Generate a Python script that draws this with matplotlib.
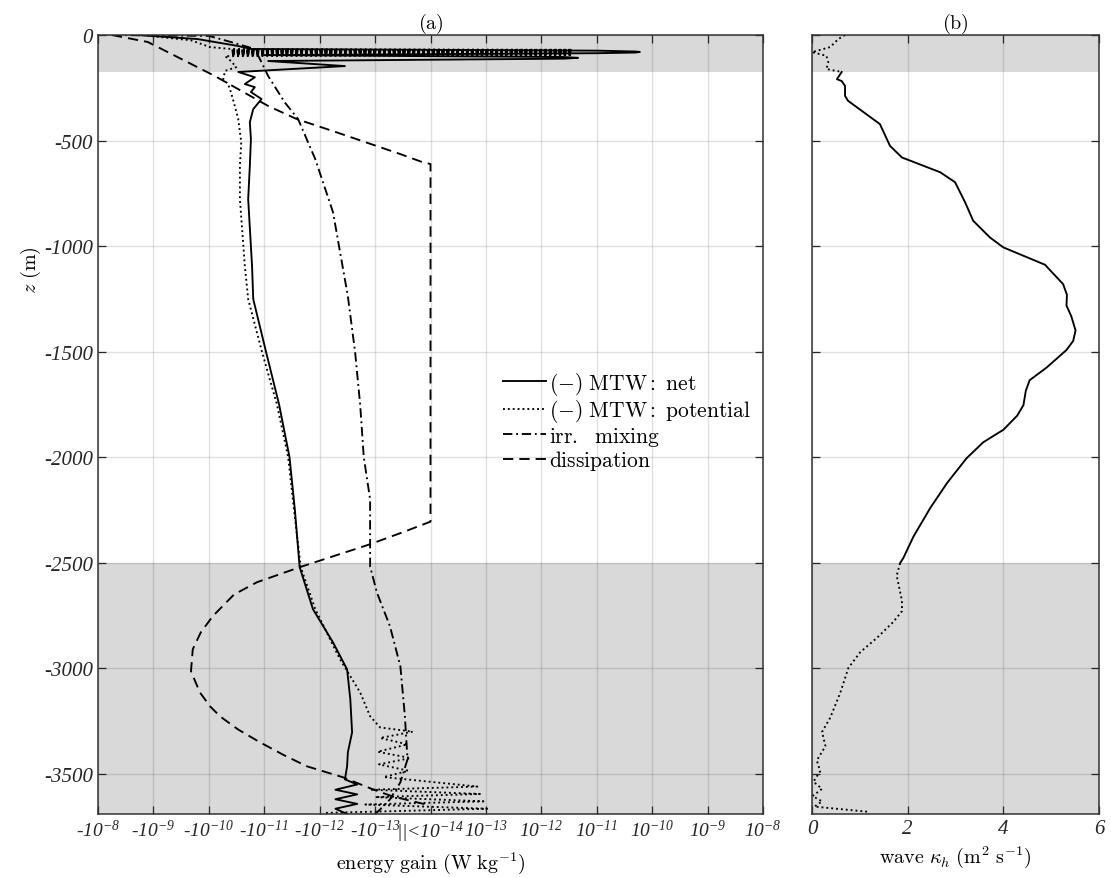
import numpy as np
import matplotlib
matplotlib.use("Agg")
import matplotlib.pyplot as plt

plt.rcParams['font.family'] = 'Liberation Serif'
plt.rcParams['font.style'] = 'italic'
plt.rcParams['mathtext.fontset'] = 'custom'
plt.rcParams['mathtext.rm'] = 'Liberation Serif:italic'
plt.rcParams['mathtext.it'] = 'Liberation Serif:italic'
plt.rcParams['mathtext.bf'] = 'Liberation Serif:italic'
plt.rcParams['axes.unicode_minus'] = False

# ---- panel (a): energy terms, W kg^-1 ----
net_z = [0, -19, -52, -66, -74, -78, -80, -83, -86, -95, -104, -108, -112,
         -123, -147, -175, -200, -232, -247, -270, -303, -351, -413, -493,
         -620, -777, -1095, -1251, -1500, -1750, -2000, -2250, -2520, -2720,
         -2877, -3005, -3147, -3303, -3398, -3464, -3526, -3550, -3575,
         -3597, -3620, -3642, -3665, -3690]
net_v = [-1.9e-9, -1.6e-10, -2.95e-11, -1.74e-11, 1.0e-11, 5.0e-11, 6.0e-11,
         5.0e-11, 1.0e-11, -1.0e-11, 2.5e-12, 4.6e-12, 2.5e-12,
         -8.5e-12, -3.5e-13, -2.95e-11, -1.48e-11, -2.24e-11, -1.48e-11,
         -1.74e-11, -1.12e-11, -1.58e-11, -1.82e-11, -1.74e-11,
         -1.82e-11, -1.95e-11, -1.66e-11, -1.58e-11, -9.3e-12, -5.4e-12,
         -3.5e-12, -2.8e-12, -2.3e-12, -1.32e-12,
         -5.75e-13, -3.2e-13, -2.8e-13, -2.6e-13, -3.1e-13, -3.2e-13, -3.5e-13,
         -2.1e-13, -5.2e-13, -2.1e-13, -5.2e-13, -2.1e-13, -5.2e-13, -3.2e-13]

pot_z = [0, -25, -57, -66, -70, -72.5, -75, -77.5, -80, -82.5, -85, -87.5,
         -90, -92.5, -95, -100, -123, -152, -170, -209, -232, -270, -336,
         -398, -507, -620, -777, -1095, -1251, -1500, -1750, -2000, -2250,
         -2520, -2720, -2957, -3114, -3227, -3280, -3300, -3330, -3360,
         -3395, -3425, -3455, -3485, -3515, -3560, -3575, -3595, -3610,
         -3630, -3645, -3665, -3685]
pot_v = [-1.6e-9, -2.1e-10, -9.5e-11, -4.0e-11, 3.6e-12, -4.0e-11, 3.6e-12,
         -4.0e-11, 3.6e-12, -4.0e-11, 3.6e-12, -4.0e-11,
         3.6e-12, -4.0e-11, 3.6e-12, -5.1e-11, -4.0e-11, -3.2e-11, -5.1e-11,
         -5.5e-11, -4.5e-11, -4.0e-11, -3.4e-11,
         -2.95e-11, -2.6e-11, -2.75e-11, -2.75e-11, -2.24e-11, -1.95e-11,
         -1.1e-11, -5.9e-12, -3.7e-12, -2.9e-12,
         -2.2e-12, -1.2e-12, -4.3e-13, -1.86e-13, -1.23e-13, -8.1e-14,
         -2.1e-14, -8.1e-14, -2.6e-14,
         -9.0e-14, -2.3e-14, -8.5e-14, -2.5e-14, -7.0e-14, 7.0e-14, -1.2e-13,
         7.8e-14, -1.0e-13, 9.0e-14, -1.5e-13, 1.05e-13, -8.7e-13]

mix_z = [0, -4, -33, -66, -123, -194, -318, -398, -588, -839, -1237, -1500,
         -1750, -2000, -2199, -2517, -2640, -2800, -2990, -3227, -3431, -3540,
         -3621, -3668, -3690]
mix_v = [-5.6e-9, -1.0e-10, -4.0e-11, -1.48e-11, -1.15e-11, -8.5e-12,
         -4.3e-12, -2.45e-12, -1.2e-12, -5.75e-13, -3.1e-13, -2.3e-13,
         -1.86e-13, -1.6e-13, -1.23e-13, -1.23e-13, -9.3e-14, -5.4e-14,
         -3.5e-14, -2.9e-14, -2.6e-14, -3.5e-14, -5.4e-14, -8.1e-14, -1.0e-13]

diss_z = [0, -33, -194, -336, -398, -455, -564, -602, -611, -2305, -2350,
          -2412, -2521, -2592, -2650, -2753, -2830, -2910, -3014, -3114,
          -3180, -3227, -3290, -3350, -3410, -3464, -3516, -3573, -3607, -3650]
diss_v = [-5.6e-9, -1.26e-9, -7.8e-11, -8.5e-12, -2.6e-12, -5.75e-13,
          -3.5e-14, -1.4e-14, 0, 0, -2.8e-14,
          -1.23e-13, -2.3e-12, -1.35e-11, -3.5e-11, -8.5e-11, -1.4e-10,
          -1.95e-10, -2.1e-10, -1.45e-10,
          -9.5e-11, -6.3e-11, -2.95e-11, -1.2e-11, -4.5e-12, -1.7e-12,
          -3.8e-13, -1.1e-13, -4.8e-14, 0]

xticks_a = [-1e-8, -1e-9, -1e-10, -1e-11, -1e-12, -1e-13, 0,
            1e-13, 1e-12, 1e-11, 1e-10, 1e-9, 1e-8]
xticklabels_a = ['-10$^{-8}$', '-10$^{-9}$', '-10$^{-10}$', '-10$^{-11}$',
                 '-10$^{-12}$', '-10$^{-13}$', '||<10$^{-14}$',
                 '10$^{-13}$', '10$^{-12}$', '10$^{-11}$', '10$^{-10}$',
                 '10$^{-9}$', '10$^{-8}$']

# ---- panel (b): wave kappa_h ----
kap_z = [0, -19, -57, -81, -98, -130, -161, -175, -209, -218, -241, -288,
         -311, -422, -525, -580, -650, -697, -792, -880, -959, -1006, -1088,
         -1180, -1231, -1281, -1332, -1399, -1449, -1492, -1576, -1635, -1685,
         -1753, -1803, -1870, -1929, -2005, -2123, -2241, -2376, -2477, -2502,
         -2561, -2679, -2729, -2780, -2855, -2923, -2998, -3116, -3234, -3301,
         -3369, -3436, -3487, -3537, -3571, -3605, -3630, -3655, -3680]
kap_v = [0.69, 0.55, 0.38, 0.0, 0.3, 0.34, 0.3, 0.62, 0.52, 0.62, 0.69, 0.69,
         0.75, 1.42, 1.63, 1.88, 2.68, 2.99, 3.2, 3.37, 3.72, 4.0, 4.87,
         5.25, 5.33, 5.32, 5.42, 5.51, 5.46, 5.32, 4.9, 4.55, 4.47,
         4.42, 4.29, 4.0, 3.58, 3.23, 2.82, 2.47, 2.12, 1.91, 1.84,
         1.77, 1.88, 1.88, 1.70, 1.36, 1.01, 0.76, 0.59, 0.38, 0.21,
         0.28, 0.10, 0.17, 0.03, 0.21, 0.01, 0.21, 0.05, 1.2]

yticks = [0, -500, -1000, -1500, -2000, -2500, -3000, -3500]
zmin = -3690
mixed_top = -175
mixed_bot = -2500


def fwd(x):
    x = np.asarray(x, dtype=float)
    a = np.abs(x)
    t = np.where(a > 1e-14, np.log10(np.maximum(a, 1e-300)) + 14, 0.0)
    return np.sign(x) * t


def inv(t):
    t = np.asarray(t, dtype=float)
    return np.where(t == 0, 0.0, np.sign(t) * 10.0 ** (np.abs(t) - 14))


fig = plt.figure(figsize=(11.11, 8.79), dpi=100)
ax1 = fig.add_axes([0.0882, 0.0728, 0.5986, 0.8862])
ax2 = fig.add_axes([0.7309, 0.0728, 0.2583, 0.8862])

shade = '#d9d9d9'
for ax in (ax1, ax2):
    ax.axhspan(mixed_top, 0, color=shade, lw=0, zorder=0)
    ax.axhspan(zmin, mixed_bot, color=shade, lw=0, zorder=0)
    ax.grid(True, color='black', alpha=0.12, lw=1.0)
    ax.tick_params(direction='in', top=True, right=True, length=6, width=0.9,
                   labelsize=15, colors='#262626')
    for s in ax.spines.values():
        s.set_color('#333333')
        s.set_linewidth(1.1)
    ax.set_ylim(zmin, 0)
    ax.set_yticks(yticks)

lw = 1.35
ax1.set_xscale('function', functions=(fwd, inv))
ax1.plot(net_v, net_z, color='black', lw=lw, label=r'$(-)\ \mathrm{MTW{:}\ net}$')
ax1.plot(pot_v, pot_z, color='black', lw=lw, linestyle=(0, (1, 1.6)),
         label=r'$(-)\ \mathrm{MTW{:}\ potential}$')
ax1.plot(mix_v, mix_z, color='black', lw=lw, linestyle=(0, (5, 2, 1, 2)),
         label=r'$\mathrm{irr.\ \ mixing}$')
ax1.plot(diss_v, diss_z, color='black', lw=lw, linestyle=(0, (5.5, 3.2)),
         label=r'$\mathrm{dissipation}$')
ax1.set_xlim(-1e-8, 1e-8)
ax1.set_xticks(xticks_a)
ax1.set_xticklabels(xticklabels_a, fontsize=14)
ax1.minorticks_off()
ax1.set_xlabel(r'$\mathrm{energy\ gain\ (W\ kg^{-1})}$', fontsize=14.5,
               math_fontfamily='cm', labelpad=4)
ax1.set_ylabel(r'$z\ \mathrm{(m)}$', fontsize=14.5, math_fontfamily='cm')
ax1.yaxis.set_label_coords(-0.082, 0.70)
ax1.set_title(r'$\mathrm{(a)}$', fontsize=14.5, math_fontfamily='cm', pad=5)

leg = ax1.legend(loc='upper left', bbox_to_anchor=(0.609, 0.57), frameon=False,
                 fontsize=15.5, handlelength=2.0, handletextpad=0.12,
                 labelspacing=0.02, borderpad=0, borderaxespad=0)
for txt in leg.get_texts():
    txt.set_math_fontfamily('cm')

kz = np.array(kap_z)
kv = np.array(kap_v)
inside = (kz <= mixed_top) & (kz >= kz[kz <= mixed_bot].max())
top = kz >= mixed_top
bot = kz <= kz[inside].min()
ax2.plot(kv[top], kz[top], color='black', lw=lw, linestyle=(0, (1, 1.6)))
ax2.plot(kv[inside], kz[inside], color='black', lw=lw)
ax2.plot(kv[bot], kz[bot], color='black', lw=lw, linestyle=(0, (1, 1.6)))
ax2.set_xlim(0, 6)
ax2.set_xticks([0, 2, 4, 6])
ax2.set_yticklabels([])
ax2.set_xlabel(r'$\mathrm{wave}\ \kappa_h\ \mathrm{(m^2\ s^{-1})}$', fontsize=14.5,
               math_fontfamily='cm', labelpad=4)
ax2.set_title(r'$\mathrm{(b)}$', fontsize=14.5, math_fontfamily='cm', pad=5)

fig.savefig('out.png', dpi=100)
